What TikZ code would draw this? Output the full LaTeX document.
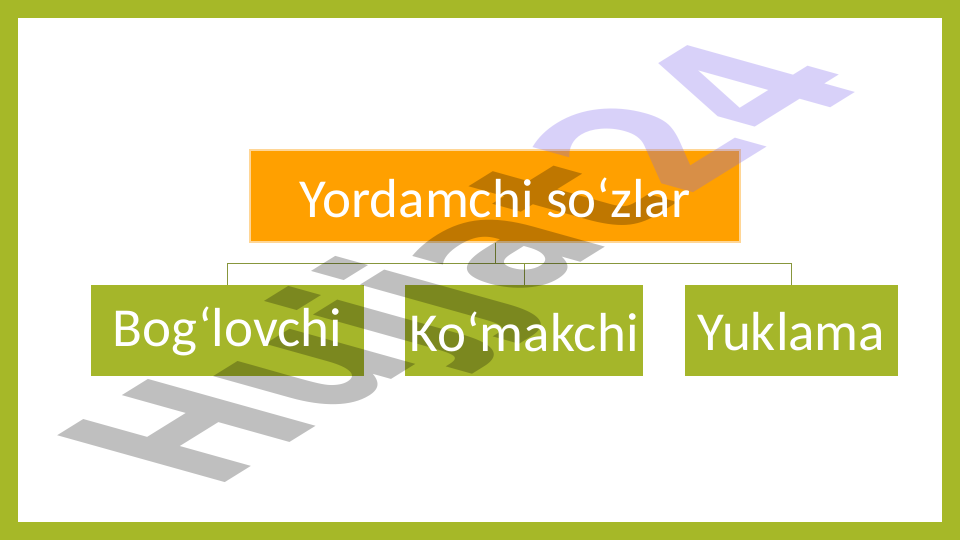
\documentclass[tikz,border=0pt]{standalone}
\usepackage{fontspec}
\setmainfont{Carlito}
\newfontfamily\wmfont{DejaVu Sans}
\definecolor{framegreen}{RGB}{166,184,40}
\definecolor{boxgreen}{RGB}{165,182,42}
\definecolor{boxorange}{RGB}{255,160,0}
\definecolor{orangeedge}{RGB}{255,214,150}
\definecolor{linkcol}{RGB}{135,150,60}
\definecolor{wmlav}{RGB}{128,105,238}
\tikzset{
  topbox/.style={draw=orangeedge, line width=1.5pt, fill=boxorange, minimum width=490pt, minimum height=92pt, inner sep=0pt},
  childbox/.style={fill=boxgreen, minimum height=91pt, inner sep=0pt},
  label/.style={text=white, inner sep=0pt, font=\fontsize{55}{60}\selectfont},
  link/.style={draw=linkcol, line width=0.9pt},
  wmtext/.style={anchor=base west, inner sep=0pt, outer sep=0pt, transform shape, font=\wmfont\bfseries\fontsize{100}{100}\selectfont}
}
\begin{document}
\begin{tikzpicture}[x=1pt,y=1pt]
\useasboundingbox (0,0) rectangle (960,540);
\fill[framegreen] (0,0) rectangle (960,540);
\fill[white] (18,18) rectangle (942,522);
% boxes (fills)
\node[topbox] (top) at (495,344) {};
\node[childbox, minimum width=273pt] (b1) at (227.5,209.5) {};
\node[childbox, minimum width=238pt] (b2) at (524,209.5) {};
\node[childbox, minimum width=213pt] (b3) at (791.5,209.5) {};
% connectors
\coordinate (j) at (495,277);
\draw[link] (top.south) -- (j);
\draw[link] (j) -| (b1.north);
\draw[link] (j) -| (b2.north);
\draw[link] (j) -| (b3.north);
% watermark
\begin{scope}[shift={(212,49)}, cm={1.39,0.862,-2.30,0.643,(0,0)}]
\node[wmtext, text=black, text opacity=0.25] (wm1) at (0,0) {Hujjat};
\node[wmtext, text=wmlav, text opacity=0.3] (wm2) at (wm1.base east) {24};
\end{scope}
% texts
\node[label] (t0) at ([yshift=-2pt]top.center) {Yordamchi so‘zlar};
\node[label] (t1) at ([yshift=-1pt]b1.center) {Bog‘lovchi};
\node[label] (t2) at ([yshift=-1pt]b2.center) {Ko‘makchi};
\node[label] (t3) at ([yshift=-1pt]b3.center) {Yuklama};
\end{tikzpicture}
\end{document}
